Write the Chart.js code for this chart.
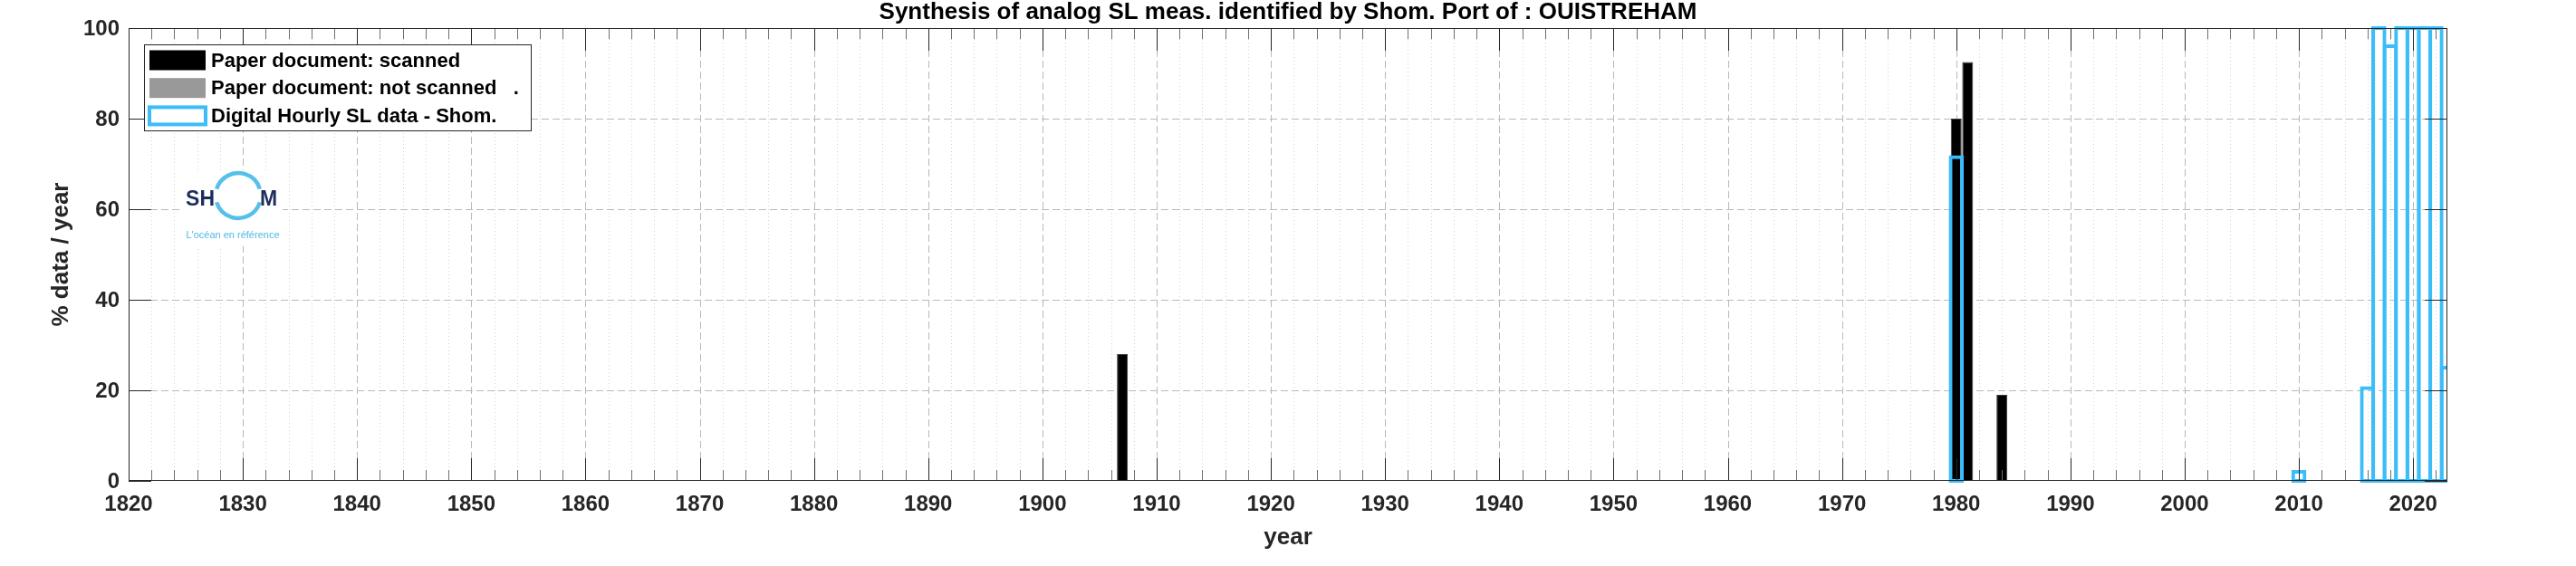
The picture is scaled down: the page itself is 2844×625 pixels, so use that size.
<!DOCTYPE html>
<html>
<head>
<meta charset="utf-8">
<script src="https://cdn.jsdelivr.net/npm/chart.js@4.4.1/dist/chart.umd.min.js"></script>
<style>
  html, body { margin: 0; padding: 0; background: #fff; }
</style>
</head>
<body>
<canvas id="chart" width="2844" height="625"></canvas>
<script>
// % of hourly data per year
const scannedYears = [1907, 1980, 1981, 1984]
const scannedPct = [28, 80, 92.5, 19]
const notScannedYears = []
const notScannedPct = []
const digitalYears = [1980, 2010, 2016, 2017, 2018, 2019, 2020, 2021, 2022, 2023]
const digitalPct = [71.5, 2, 20.5, 100, 96, 100, 100, 100, 100, 25]
const yearRange = [1820, 2023]
const pctRange = [0, 100]

const FONT = "'Liberation Sans', Arial, Helvetica, sans-serif"
const INK = "#262626"
const BLUE = "#3bbdf9"

Chart.defaults.font.family = FONT

const points = (xs, ys) => xs.map((x, i) => ({ x, y: ys[i] }))

function drawLogo(ctx, a) {
  const ox = a.left + 58, oy = a.top + 157
  ctx.save()
  ctx.fillStyle = "#fff"
  ctx.fillRect(ox, oy, 112, 84)
  const cx = ox + 63, cy = oy + 28, r = 25
  ctx.strokeStyle = "#55c0ea"
  ctx.lineWidth = 4.5
  ctx.beginPath(); ctx.arc(cx, cy, r, Math.PI + 0.3, 2 * Math.PI - 0.3); ctx.stroke()
  ctx.beginPath(); ctx.arc(cx, cy, r, 0.3, Math.PI - 0.3); ctx.stroke()
  ctx.fillStyle = "#1c2d5c"
  ctx.font = `bold 23px ${FONT}`
  ctx.textBaseline = "alphabetic"
  ctx.textAlign = "right"
  ctx.fillText("SH", cx - 26, oy + 39)
  ctx.textAlign = "left"
  ctx.fillText("M", cx + 24, oy + 39)
  ctx.fillStyle = "#4fb9e7"
  ctx.font = `11px ${FONT}`
  ctx.textAlign = "center"
  ctx.fillText("L'océan en référence", cx - 6, oy + 75)
  ctx.restore()
}

function drawLegend(chart) {
  const { ctx, chartArea: a } = chart
  const lx = Math.round(a.left + 17) + 0.5, ly = Math.round(a.top + 18) + 0.5
  ctx.save()
  ctx.fillStyle = "#fff"
  ctx.fillRect(lx, ly, 427, 95)
  ctx.strokeStyle = INK
  ctx.lineWidth = 1
  ctx.strokeRect(lx, ly, 427, 95)
  ctx.font = `bold 22px ${FONT}`
  ctx.textBaseline = "middle"
  ctx.textAlign = "left"
  chart.data.datasets.forEach((ds, i) => {
    const cy = ly + 17 + i * 30.7
    if (ds.legendOutline) {
      ctx.strokeStyle = ds.borderColor
      ctx.lineWidth = 4
      ctx.strokeRect(lx + 5.5, cy - 9.5, 62, 19)
    } else {
      ctx.fillStyle = ds.backgroundColor
      ctx.fillRect(lx + 5.5, cy - 11, 62, 22)
    }
    ctx.fillStyle = "#000"
    ctx.fillText(ds.label, lx + 73.5, cy + 1)
  })
  ctx.restore()
}

const matlabFrame = {
  id: "matlabFrame",
  beforeDatasetsDraw(chart) {
    const { ctx, chartArea: a, scales: { x, y } } = chart
    ctx.save()
    ctx.lineWidth = 1
    x.ticks.forEach(t => {
      if (t.value <= x.min || t.value >= x.max) return
      const px = Math.round(x.getPixelForValue(t.value)) + 0.5
      const major = t.value % 10 === 0
      ctx.strokeStyle = major ? "#b9b9b9" : "#d2d2d2"
      ctx.setLineDash(major ? [8, 4] : [1, 3])
      ctx.beginPath(); ctx.moveTo(px, a.top); ctx.lineTo(px, a.bottom); ctx.stroke()
    })
    y.ticks.forEach(t => {
      if (t.value <= y.min || t.value >= y.max) return
      const py = Math.round(y.getPixelForValue(t.value)) + 0.5
      ctx.strokeStyle = "#b9b9b9"
      ctx.setLineDash([8, 4])
      ctx.beginPath(); ctx.moveTo(a.left, py); ctx.lineTo(a.right, py); ctx.stroke()
    })
    ctx.restore()
    drawLogo(ctx, a)
  },
  afterDatasetsDraw(chart) {
    const { ctx, chartArea: a, scales: { x, y } } = chart
    ctx.save()
    ctx.lineWidth = 1
    x.ticks.forEach(t => {
      const px = Math.round(x.getPixelForValue(t.value)) + 0.5
      const major = t.value % 10 === 0
      const len = major ? 25 : 12
      ctx.strokeStyle = major ? INK : "#707070"
      ctx.beginPath()
      ctx.moveTo(px, a.bottom); ctx.lineTo(px, a.bottom - len)
      ctx.moveTo(px, a.top); ctx.lineTo(px, a.top + len)
      ctx.stroke()
    })
    ctx.strokeStyle = INK
    y.ticks.forEach(t => {
      const py = Math.round(y.getPixelForValue(t.value)) + 0.5
      ctx.beginPath()
      ctx.moveTo(a.left, py); ctx.lineTo(a.left + 25, py)
      ctx.moveTo(a.right, py); ctx.lineTo(a.right - 25, py)
      ctx.stroke()
    })
    ctx.strokeRect(Math.round(a.left) + 0.5, Math.round(a.top) + 0.5,
      Math.round(a.right - a.left) - 1, Math.round(a.bottom - a.top) - 1)

    // y tick labels, right aligned just left of the box
    ctx.fillStyle = INK
    ctx.font = `bold 24px ${FONT}`
    ctx.textAlign = "right"
    ctx.textBaseline = "middle"
    y.ticks.forEach(t => {
      ctx.fillText(t.label, a.left - 10, y.getPixelForValue(t.value) + 1)
    })
    ctx.restore()
    drawLegend(chart)
  },
  afterDraw(chart) {
    const { ctx, chartArea: a } = chart
    ctx.save()
    ctx.fillStyle = "#000"
    ctx.font = `bold 26px ${FONT}`
    ctx.textAlign = "center"
    ctx.textBaseline = "alphabetic"
    ctx.fillText("Synthesis of analog SL meas. identified by Shom. Port of : OUISTREHAM",
      (a.left + a.right) / 2, 21)
    // y axis title
    ctx.fillStyle = INK
    ctx.translate(68, (a.top + a.bottom) / 2)
    ctx.rotate(-Math.PI / 2)
    ctx.textBaseline = "middle"
    ctx.fillText("% data / year", 0, 0)
    ctx.restore()
  }
}

new Chart(document.getElementById("chart"), {
  type: "bar",
  data: {
    datasets: [
      {
        label: "Paper document: scanned",
        data: points(scannedYears, scannedPct),
        backgroundColor: "#000",
        borderColor: "#3a3a3a",
        borderWidth: 1,
        grouped: false,
        categoryPercentage: 1,
        barPercentage: 0.95,
        order: 1
      },
      {
        label: "Paper document: not scanned   .",
        data: points(notScannedYears, notScannedPct),
        backgroundColor: "#999999",
        borderWidth: 0,
        grouped: false,
        categoryPercentage: 1,
        barPercentage: 0.95,
        order: 1
      },
      {
        label: "Digital Hourly SL data - Shom.",
        data: points(digitalYears, digitalPct),
        backgroundColor: "rgba(0,0,0,0)",
        borderColor: BLUE,
        borderWidth: 0.01,
        inflateAmount: 2,
        borderSkipped: false,
        grouped: false,
        categoryPercentage: 1,
        barPercentage: 1,
        legendOutline: true,
        clip: { left: 5, top: 5, bottom: 5, right: 0 },
        order: 0
      }
    ]
  },
  options: {
    responsive: false,
    animation: false,
    events: [],
    layout: { padding: { left: 0, right: 142, top: 31, bottom: 0 } },
    plugins: {
      legend: { display: false },
      tooltip: { enabled: false },
      title: { display: false }
    },
    scales: {
      x: {
        type: "linear",
        min: yearRange[0],
        max: yearRange[1],
        offset: false,
        grid: { display: false, drawTicks: false },
        border: { display: false },
        ticks: {
          stepSize: 2,
          includeBounds: false,
          autoSkip: false,
          maxRotation: 0,
          padding: 12,
          color: INK,
          font: { size: 24, weight: "bold" },
          callback: v => (v % 10 === 0 ? String(v) : "")
        },
        title: {
          display: true,
          text: "year",
          color: INK,
          font: { size: 26, weight: "bold" },
          padding: { top: 0, bottom: 16 }
        },
        afterFit: s => { s.height = 94 }
      },
      y: {
        min: pctRange[0],
        max: pctRange[1],
        grid: { display: false, drawTicks: false },
        border: { display: false },
        ticks: {
          display: false,
          stepSize: 20
        },
        afterFit: s => { s.width = 142 }
      }
    }
  },
  plugins: [matlabFrame]
})
</script>
</body>
</html>
